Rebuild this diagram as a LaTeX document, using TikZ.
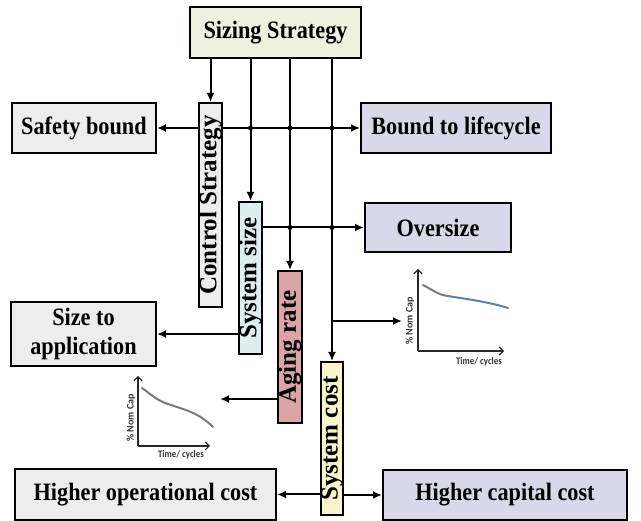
\documentclass[tikz,border=0pt]{standalone}
\usepackage{fontspec}
\setmainfont{Liberation Serif}[FakeStretch=0.89]
\newfontfamily\vfont{Liberation Serif}
\newfontfamily\chartfont{Carlito}[FakeStretch=0.89]
\newfontfamily\chartvfont{Carlito}
\usetikzlibrary{arrows.meta}
\definecolor{sizingfill}{HTML}{EFF1DF}
\definecolor{greyfill}{HTML}{EDEDED}
\definecolor{lavfill}{HTML}{D9D8E8}
\definecolor{cyanfill}{HTML}{DDEEF1}
\definecolor{pinkfill}{HTML}{DBA4A6}
\definecolor{yellowfill}{HTML}{FAF4CB}
\definecolor{curvegrey}{HTML}{7A7A7A}
\definecolor{curveblue}{HTML}{5F7FB0}
\begin{document}
\begin{tikzpicture}[x=1pt,y=-1pt,
  box/.style={draw, line width=2pt, inner sep=0pt, align=center,
    font=\bfseries\fontsize{25}{29}\selectfont},
  vbox/.style={draw, line width=2pt, inner sep=0pt,
    font=\vfont\bfseries\fontsize{25}{29}\selectfont},
  arr/.style={line width=2pt, -{Latex[length=9pt,width=8pt]}},
  ln/.style={line width=2pt},
  dot/.style={circle, fill=black, inner sep=0pt, minimum size=5pt},
  axis/.style={line width=1.2pt, draw=black!85, -{Straight Barb[length=4pt,width=8pt]}},
  clabel/.style={inner sep=0pt, font=\chartfont\bfseries\fontsize{10}{11}\selectfont, text=black!80},
  cvlabel/.style={inner sep=0pt, font=\chartvfont\bfseries\fontsize{10}{11}\selectfont, text=black!80}]
\useasboundingbox (0,0) rectangle (641,521);
\fill[white] (0,0) rectangle (641,521);

% horizontal boxes
\node[box, fill=sizingfill, minimum width=171pt, minimum height=51pt] (sizing) at (275.5,32.5) {Sizing Strategy};
\node[box, fill=greyfill, minimum width=144pt, minimum height=50pt] (safety) at (84,128) {Safety bound};
\node[box, fill=lavfill, minimum width=190pt, minimum height=50pt] (bound) at (456,128) {Bound to lifecycle};
\node[box, fill=lavfill, minimum width=146pt, minimum height=49pt] (oversize) at (438,227.5) {Oversize};
\node[box, fill=greyfill, minimum width=145pt, minimum height=64pt] (sizeapp) at (83.5,334) {Size to\\application};
\node[box, fill=greyfill, minimum width=261pt, minimum height=51pt] (highop) at (145.5,494.5) {Higher operational cost};
\node[box, fill=lavfill, minimum width=244pt, minimum height=50pt] (highcap) at (505,495) {Higher capital cost};

% vertical boxes
\node[vbox, fill=greyfill, minimum width=23pt, minimum height=204pt] (control) at (210.5,205) {\rotatebox{90}{Control Strategy}};
\node[vbox, fill=cyanfill, minimum width=23pt, minimum height=152pt] (syssize) at (250.5,278) {\rotatebox{90}{System size}};
\node[vbox, fill=pinkfill, minimum width=24pt, minimum height=152pt] (aging) at (290,347) {\rotatebox{90}{Aging rate}};
\node[vbox, fill=yellowfill, minimum width=22pt, minimum height=153pt] (syscost) at (332,438.5) {\rotatebox{90}{System cost}};

% from sizing strategy
\draw[arr] (sizing.south -| control) -- (control.north);
\draw[arr] (sizing.south -| syssize) -- (syssize.north);
\draw[arr] (sizing.south -| aging) -- (aging.north);
\draw[arr] (sizing.south -| syscost) -- (syscost.north);

% control strategy outputs
\draw[arr] (control.west |- safety) -- (safety.east);
\draw[arr] (control.east |- bound) -- (bound.west);
\node[dot] at (syssize |- bound) {};
\node[dot] at (aging |- bound) {};
\node[dot] at (syscost |- bound) {};

% system size outputs
\draw[arr] (syssize.east |- oversize) -- (oversize.west);
\node[dot] at (aging |- oversize) {};
\node[dot] at (syscost |- oversize) {};
\draw[arr] (syssize.west |- sizeapp) -- (sizeapp.east);

% chart arrows
\coordinate (chartR) at (402,321);
\coordinate (chartL) at (220,399);
\draw[arr] (syscost |- chartR) -- (chartR);
\draw[arr] (aging.west |- chartL) -- (chartL);

% system cost outputs
\draw[arr] (syscost.west |- highop) -- (highop.east);
\draw[arr] (syscost.east |- highcap) -- (highcap.west);

% upper chart
\coordinate (uo) at (418,351);
\draw[axis] (uo) -- (418,269);
\draw[axis] (uo) -- (504,351);
\draw[curvegrey, line width=2pt, line cap=round] (423,285) .. controls (433,290) and (438,295) .. (448,296);
\draw[curveblue, line width=2pt, line cap=round] (448,296) .. controls (465,299) and (485,301) .. (508,308);
\node[cvlabel, rotate=90] (ucap) at (410,321) {\% Nom Cap};
\node[clabel] (utime) at (479,362) {Time/ cycles};

% lower chart
\coordinate (lo) at (138,446);
\draw[axis] (lo) -- (138,376);
\draw[axis] (lo) -- (210,446);
\draw[curvegrey, line width=2pt, line cap=round] (142,388) .. controls (152,395) and (156,400) .. (168,404) .. controls (185,410) and (198,412) .. (213,427);
\node[cvlabel, rotate=90] (lcap) at (131,418) {\% Nom Cap};
\node[clabel] (ltime) at (181,455) {Time/ cycles};
\end{tikzpicture}
\end{document}
